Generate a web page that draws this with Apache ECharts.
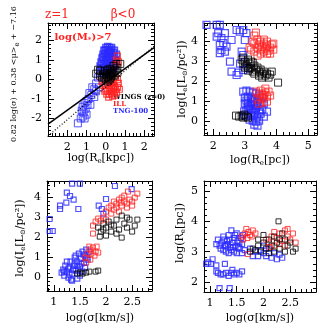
<!DOCTYPE html>
<html>
<head>
<meta charset="utf-8">
<script src="https://cdn.jsdelivr.net/npm/echarts@6/dist/echarts.min.js"></script>
<style>
  html, body { margin: 0; padding: 0; background: #fff; }
  #main { width: 330px; height: 332px; }
</style>
</head>
<body>
<div id="main"></div>
<script>
// ---- panel 1: log(Re[kpc]) vs FP combination
var p1Blue = [[-0.3,0.3],[-0.2,0.5],[-0.3,0.7],[-0.25,0.9],[-0.2,1.1],[-0.15,1.3],[-0.1,1.5],[0,1.65],[0.1,1.7],[0.2,1.65],[0.3,1.55],[0.4,1.4],[0.45,1.2],[0.5,1.0],[0.45,0.8],[0.4,0.6],[0.3,0.4],[0.2,0.3],[0.1,0.35],[0,0.4],[-0.1,0.6],[0,0.8],[0.1,1.0],[0.2,1.2],[0.3,1.3],[0.1,1.4],[0,1.2],[-0.1,1.0],[0.2,0.8],[0.3,1.0],[0.35,0.75],[0.05,0.6],[0.15,0.55],[-0.05,1.3],[0.15,1.5],[0.25,1.4],[-0.2,0.8],[0.4,1.0],[0.2,1.0],[0.05,1.1],[-0.15,0.4],[0.25,0.6],[0.5,0.7],[0.55,1.3],
  [-0.25,0.6],[-0.1,0.8],[0.0,1.0],[0.1,1.2],[0.2,1.45],[0.35,1.15],[0.25,0.85],[0.1,0.75],[-0.05,1.5],[0.05,1.55],[0.3,1.65],[-0.15,1.15],[0.45,1.5],[0.35,0.5]];
var p1BlueTail = [[-0.4,0.1],[-0.5,-0.2],[-0.6,-0.5],[-0.7,-0.4],[-0.75,-0.8],[-0.85,-0.7],[-0.9,-1.0],[-1.0,-1.1],[-0.95,-1.3],[-1.1,-1.2],[-1.05,-1.5],[-1.2,-1.4],[-1.15,-1.7],[-1.25,-1.6],[-1.2,-1.9],[-1.3,-2.0],[-1.1,-2.0],[-1.45,-2.25],[-1.0,-1.8],[-0.8,-1.3],[-0.6,-0.9],[-0.5,-0.6],[-0.35,-0.4]];
var p1Red = [[-0.2,-0.1],[-0.1,-0.3],[0,-0.5],[0.1,-0.6],[0.2,-0.75],[0.3,-0.7],[0.4,-0.6],[0.5,-0.5],[0.6,-0.4],[0.65,-0.2],[0.6,0],[0.5,0.1],[0.4,-0.1],[0.3,-0.3],[0.2,-0.4],[0.1,-0.2],[0.3,-0.5],[0.45,-0.35],[0.55,-0.65],[0.35,-0.85],[0.15,-0.9],[0.05,-0.75],[-0.05,-0.6],[0.25,-0.15],[0.5,0.75],[0.55,1.0],[0.6,1.2],[0.65,0.9],[0.45,-0.8],[0.7,-0.5],[0.0,-0.3],[0.4,-0.45]];
var p1Black = [[-0.5,0.3],[-0.4,0.5],[-0.3,0.2],[-0.2,0.1],[-0.1,0.3],[0,0.2],[0.1,0.1],[0.2,0.3],[0.3,0.2],[0.4,0.4],[0.5,0.5],[0.6,0.6],[0.75,0.8],[0.55,0.8],[0.4,0.7],[0.1,0.5],[0,0.0],[0.2,0.0],[0.3,0.45],[-0.1,0.1],[0.15,0.25],[0.25,0.1],[-0.05,0.45],[0.35,0.3],[0.45,0.2],[0.1,-0.1],[-0.3,0.45],[0.6,0.35],[0.05,0.35],[0.2,0.55]];
var p1FitSolid = [[-3,-2.29],[2.5,1.64]];
var p1FitDotted = [[-3,-2.9],[2.5,1.71]];

// ---- panel 2: log(Re[pc]) vs log(Ie)
var p2Blue = [[1.79,4.84],[2.11,4.84],[2.21,4.84],[2.37,4.42],[2.26,4.17],[2.21,3.83],[2.26,3.58],[2.21,3.42],[2.37,3.5],[2.42,3.75],[2.58,4.08],[2.74,4.58],[2.95,4.58],[3.05,4.42],[2.84,4.5],[3.0,4.08],[2.53,3.0],[2.58,2.5],[2.74,2.33],[2.8,2.45],[2.9,3.5],[2.95,3.33],[2.85,2.9],[3.1,2.67],[2.95,2.58],[2.11,4.25],[2.16,4.42],[2.32,3.92],
  [2.95,1.5],[3.05,1.55],[3.15,1.5],[3.25,1.45],[3.35,1.4],[3.45,1.3],[3.55,1.2],[3.0,1.2],[3.1,1.25],[3.2,1.2],[3.3,1.15],[3.4,1.1],[3.5,0.95],[3.0,0.9],[3.1,0.95],[3.2,0.9],[3.3,0.85],[3.4,0.8],[3.6,0.9],[3.05,0.6],[3.15,0.65],[3.25,0.6],[3.35,0.55],[3.45,0.5],[3.1,0.35],[3.2,0.3],[3.3,0.3],[3.4,0.25],[3.5,0.4],[3.25,0.05],[3.35,0.0],[3.3,-0.15],[3.4,-0.2],[3.15,0.1],[2.98,0.5],[3.55,0.6],[3.7,0.5],[3.6,0.25],[3.0,0.3],[3.45,0.05],
  [3.05,1.05],[3.15,0.8],[3.25,1.0],[3.35,0.7],[3.2,0.45],[3.1,0.75],[3.3,0.45],[3.4,0.95]];
var p2Red = [[3.3,4.3],[3.4,4.1],[3.5,4.0],[3.6,3.9],[3.7,3.8],[3.8,3.7],[3.9,3.6],[3.3,3.9],[3.4,3.7],[3.5,3.6],[3.6,3.5],[3.7,3.4],[3.2,3.6],[3.3,3.5],[3.45,3.85],[3.55,3.75],[3.65,3.65],[3.75,3.55],[3.85,3.85],[3.35,4.45],[3.25,4.0],[3.5,3.4],[3.8,3.4],[3.6,4.1],[3.15,3.7],[3.9,3.9],[3.4,3.3],[3.7,4.0],
  [3.35,1.5],[3.45,1.4],[3.55,1.35],[3.65,1.45],[3.75,1.5],[3.5,1.2],[3.6,1.15],[3.7,1.25],[3.4,1.1],[3.5,1.55],[3.65,1.65],[3.8,1.3],[3.55,0.95],[3.45,0.9],[3.7,1.0],[3.6,1.35]];
var p2Black = [[2.9,3.1],[3.0,3.0],[3.05,2.8],[3.1,3.1],[3.15,2.9],[3.2,2.7],[3.25,2.95],[3.3,2.8],[3.35,2.6],[3.4,2.7],[3.45,2.5],[3.5,2.6],[3.55,2.4],[3.6,2.5],[3.65,2.3],[3.7,2.4],[3.75,2.2],[3.8,2.35],[3.0,2.7],[3.1,2.55],[3.2,3.0],[3.3,2.4],[3.45,2.3],[2.95,2.9],[3.15,2.65],[3.55,2.2],[3.85,2.5],[2.95,3.2],[4.05,1.95],[3.25,2.5],
  [2.72,0.3],[2.82,0.25],[2.9,0.3],[2.95,0.2],[3.05,0.25],[3.1,0.2],[2.98,0.35]];

// ---- panel 3: log(sigma) vs log(Ie)
var p3Blue = [[0.92,2.93],[0.92,2.33],[0.98,2.33],[1.12,3.43],[1.12,3.6],[1.24,3.75],[1.31,4.08],[1.38,3.9],[1.47,3.43],[1.5,4.7],[1.35,4.7],[1.22,4.85],[1.07,4.85],[1.25,4.25],[2.17,4.58],[2.0,3.93],[1.92,3.43],[1.86,3.6],[2.49,4.42],[1.95,3.2],
  [1.15,0.25],[1.18,0.4],[1.2,0.1],[1.22,0.6],[1.25,0.3],[1.28,0.0],[1.3,0.5],[1.32,0.8],[1.35,0.2],[1.35,-0.15],[1.38,0.6],[1.4,1.0],[1.42,0.35],[1.45,0.8],[1.45,-0.05],[1.48,1.2],[1.5,0.55],[1.52,0.95],[1.55,1.3],[1.55,0.3],[1.58,0.75],[1.6,1.1],[1.62,1.4],[1.65,0.9],[1.68,1.3],[1.25,0.8],[1.3,0.15],[1.4,0.7],[1.5,0.1],[1.6,0.5],[1.42,1.1],[1.28,0.45],[1.37,0.4],[1.47,0.4],[1.53,0.7],[1.33,-0.1],[1.2,0.3],[1.63,1.0],[1.57,1.15],[1.45,0.6]];
var p3Red = [[2.1,3.6],[2.15,3.8],[2.2,3.7],[2.25,3.9],[2.3,3.6],[2.35,3.8],[2.4,3.7],[2.45,3.9],[2.2,3.5],[2.3,4.0],[2.4,3.5],[2.5,3.8],[2.55,4.0],[2.15,3.4],[2.25,3.3],[2.05,3.5],[2.35,4.1],[2.6,4.2],[2.0,3.3],[1.95,3.0],[1.85,2.95],[1.8,2.8],[1.75,2.6],[1.9,2.85],[2.0,2.9],[1.75,2.2],[2.1,3.2],[2.5,3.6],[2.28,3.75],[2.42,4.3],
  [1.6,1.0],[1.65,1.2],[1.7,1.4],[1.75,1.5],[1.8,1.3],[1.7,0.9],[1.78,1.1],[1.85,1.25],[1.68,1.55],[1.82,1.55],[1.72,1.2],[1.62,0.75]];
var p3Black = [[1.85,2.5],[1.9,2.3],[1.95,2.7],[2.0,2.5],[2.05,2.8],[2.1,2.3],[2.15,2.6],[2.2,2.9],[2.25,2.4],[2.3,3.1],[2.35,2.7],[2.4,2.5],[2.45,2.9],[2.5,2.3],[2.0,2.1],[2.2,2.2],[2.3,2.0],[1.95,2.4],[2.6,2.9],[2.55,2.6],[2.1,2.65],[2.4,3.0],[1.88,2.05],
  [1.45,0.2],[1.5,0.25],[1.55,0.2],[1.62,0.25],[1.68,0.3],[1.8,0.3],[1.85,0.35]];

// ---- panel 4: log(sigma) vs log(Re[pc])
var p4Blue = [[1.12,3.25],[1.15,3.4],[1.2,3.1],[1.22,3.3],[1.25,3.5],[1.28,3.2],[1.3,3.0],[1.32,3.35],[1.35,3.55],[1.38,3.15],[1.4,3.7],[1.42,3.3],[1.45,3.0],[1.45,3.45],[1.48,3.2],[1.5,3.6],[1.52,3.35],[1.55,3.1],[1.58,3.45],[1.6,3.25],[1.62,3.55],[1.65,3.05],[1.35,2.95],[1.5,2.95],[1.18,3.2],[1.27,3.4],[1.37,3.4],[1.43,3.15],[1.55,3.3],[1.3,3.2],[1.4,3.05],[1.47,3.55],[1.6,2.95],[1.25,3.05],[1.34,3.25],[1.53,3.15],
  [0.93,2.6],[0.97,2.65],[1.02,2.6],[1.05,2.75],[1.12,2.55],[1.15,2.3],[1.2,2.25],[1.25,2.25],[1.3,2.3],[1.35,2.2],[1.4,2.3],[1.45,2.25],[1.5,2.3],[1.55,2.25],[1.6,2.35],[1.28,2.6],[1.18,1.8],[1.37,1.8],[1.42,2.4],[1.12,2.35],
  [1.8,2.85],[1.85,3.0],[1.9,2.85],[1.95,3.05],[2.0,2.95],[2.05,2.85],[2.1,3.1],[2.15,2.8],[2.2,2.95],[2.25,2.75],[2.3,2.9],[2.35,2.8],[1.75,3.1],[2.0,3.2]];
var p4Red = [[1.6,3.5],[1.65,3.6],[1.7,3.45],[1.72,3.65],[1.75,3.55],[1.8,3.7],[1.85,3.6],[1.68,3.75],[1.78,3.5],[1.62,3.4],[2.05,3.4],[2.1,3.3],[2.15,3.5],[2.2,3.2],[2.25,3.45],[2.3,3.6],[2.35,3.35],[2.4,3.7],[2.45,3.5],[2.5,3.4],[2.55,3.6],[2.6,3.3],[2.2,3.65],[2.3,3.25],[2.4,3.2],[1.71,2.92],[2.12,3.15],[2.45,3.75]];
var p4Black = [[1.75,3.0],[1.8,3.1],[1.85,3.05],[1.9,3.2],[1.95,3.0],[2.0,3.3],[2.05,3.1],[2.1,3.4],[2.15,3.2],[2.2,3.5],[2.25,3.3],[2.3,3.1],[2.35,3.6],[2.4,3.4],[2.45,3.2],[2.5,3.3],[2.55,3.0],[2.1,2.95],[2.2,3.0],[2.28,4.0],[2.0,3.55],[1.9,3.4],[2.3,3.4],[2.4,3.0],[2.6,3.1]];

// axis tick labels
var p1XTicks = [-2, -1, 0, 1, 2];
var p1YTicks = [-2, -1, 0, 1, 2];
var p2XTicks = [2, 3, 4, 5];
var ieTicks = [0, 1, 2, 3, 4];
var sigTicks = [1, 1.5, 2, 2.5];
var p4YTicks = [2, 3, 4, 5];

var BLUE = '#2a2aff', RED = '#ff2020', BLACK = '#000';
var FONT = 'DejaVu Serif';

var boxes = [
  {left: 48, top: 23, width: 106, height: 113},
  {left: 204, top: 23, width: 113, height: 112},
  {left: 47, top: 181, width: 105, height: 110},
  {left: 204, top: 181, width: 112, height: 111}
];
var ranges = [
  {x: [-3, 2.5], y: [-2.9, 2.9], xt: p1XTicks, yt: p1YTicks, xm: 0.2, ym: 0.2},
  {x: [1.71, 5.28], y: [-0.67, 4.93], xt: p2XTicks, yt: ieTicks, xm: 0.2, ym: 0.2},
  {x: [0.87, 2.88], y: [-0.67, 4.83], xt: sigTicks, yt: ieTicks, xm: 0.1, ym: 0.2},
  {x: [0.89, 2.98], y: [1.67, 5.33], xt: sigTicks, yt: p4YTicks, xm: 0.1, ym: 0.2}
];

function steps(min, max, step) {
  var out = [];
  var k = Math.ceil(min / step - 1e-6);
  for (; k * step <= max + 1e-6; k++) out.push(+(k * step).toFixed(4));
  return out;
}

// two overlapping grids per panel: one for major ticks + data, one for minor ticks
var grids = [], xAxes = [], yAxes = [];
ranges.forEach(function (r, g) {
  grids.push(boxes[g], boxes[g]);
  [0, 1].forEach(function (d) {
    var rng = d === 0 ? r.x : r.y;
    var major = d === 0 ? r.xt : r.yt;
    var minor = steps(rng[0], rng[1], d === 0 ? r.xm : r.ym);
    var sides = d === 0 ? ['bottom', 'top'] : ['left', 'right'];
    var list = d === 0 ? xAxes : yAxes;
    [0, 1].forEach(function (kind) {
      sides.forEach(function (pos, si) {
        var ax = {
          type: 'value', gridIndex: 2 * g + kind, position: pos, min: rng[0], max: rng[1],
          splitLine: {show: false},
          axisLine: {show: kind === 0, onZero: false, lineStyle: {color: '#000', width: 1}},
          axisTick: {show: true, inside: true, length: kind === 0 ? 6 : 3,
            customValues: kind === 0 ? major : minor, lineStyle: {color: '#000'}},
          axisLabel: {show: false}
        };
        if (kind === 0 && si === 0) {
          ax.axisLabel = {
            show: true, customValues: major, margin: 6,
            fontFamily: FONT, fontSize: 11, color: '#000',
            formatter: function (v) { return g === 0 && d === 0 ? String(Math.abs(v)) : String(v); }
          };
        }
        list.push(ax);
      });
    });
  });
});

function pts(g, data, color, size, z, bw) {
  return {
    type: 'scatter', xAxisIndex: 4 * g, yAxisIndex: 4 * g, data: data,
    symbol: 'rect', symbolSize: size, z: z || 2, silent: true,
    itemStyle: {color: 'rgba(0,0,0,0)', borderColor: color, borderWidth: bw || 1}
  };
}

var series = [
  pts(0, p1BlueTail, BLUE, 7),
  pts(0, p1Blue, BLUE, 6, 2, 1.4),
  pts(0, p1Red, RED, 6, 2, 1.2),
  pts(0, p1Black, BLACK, 7, 3),
  {type: 'line', xAxisIndex: 0, yAxisIndex: 0, data: p1FitSolid, symbol: 'none', z: 4,
    lineStyle: {color: '#000', width: 1.5}},
  {type: 'line', xAxisIndex: 0, yAxisIndex: 0, data: p1FitDotted, symbol: 'none', z: 4,
    lineStyle: {color: '#000', width: 1.2, type: [1, 2]}},
  pts(1, p2Blue, BLUE, 7, 2, 1.2),
  pts(1, p2Red, RED, 7),
  pts(1, p2Black, BLACK, 7, 3),
  pts(2, p3Blue, BLUE, 5, 2, 1.2),
  pts(2, p3Red, RED, 5),
  pts(2, p3Black, BLACK, 5, 3),
  pts(3, p4Blue, BLUE, 5, 2, 1.2),
  pts(3, p4Red, RED, 5),
  pts(3, p4Black, BLACK, 5, 3)
];

var rich = {
  s: {fontFamily: FONT, fontSize: 7, padding: [6, 0, 0, 0]},
  r: {fontFamily: FONT, fontSize: 7, color: RED, fontWeight: 'bold', padding: [6, 0, 0, 0]}
};
function txt(x, y, text, opts) {
  return {
    type: 'text', x: x, y: y, silent: true,
    style: Object.assign({text: text, fontFamily: FONT, fontSize: 11, fill: '#000',
      align: 'center', verticalAlign: 'middle', rich: rich}, opts || {})
  };
}
function vtxt(x, y, text, opts) {
  var t = txt(x, y, text, opts);
  t.rotation = Math.PI / 2;
  return t;
}

var graphic = [
  txt(57, 15, 'z=1', {fill: RED, fontSize: 12}),
  txt(123, 15, 'β<0', {fill: RED, fontSize: 12}),
  txt(83, 37, 'log(M{r|*})>7', {fill: RED, fontSize: 10, fontWeight: 'bold'}),
  txt(113, 97, 'WINGS (z=0)', {fill: BLACK, fontSize: 7, fontWeight: 'bold', align: 'left'}),
  txt(113, 104, 'ILL', {fill: RED, fontSize: 7, fontWeight: 'bold', align: 'left'}),
  txt(113, 111, 'TNG-100', {fill: BLUE, fontSize: 7, fontWeight: 'bold', align: 'left'}),
  txt(101, 158, 'log(R{s|e}[kpc])'),
  vtxt(14, 74, '0.82 log(σ) + 0.38 <μ>{s|e} + −7.16', {fontSize: 8}),
  txt(260, 160, 'log(R{s|e}[pc])'),
  vtxt(182, 79, 'log(I{s|e}[L{s|⊙}/pc²])'),
  txt(100, 318, 'log(σ[km/s])'),
  vtxt(20, 238, 'log(I{s|e}[L{s|⊙}/pc²])'),
  txt(260, 318, 'log(σ[km/s])'),
  vtxt(180, 233, 'log(R{s|e}[pc])')
];

var chart = echarts.init(document.getElementById('main'), null, {renderer: 'canvas'});
chart.setOption({
  animation: false,
  backgroundColor: '#fff',
  grid: grids,
  xAxis: xAxes,
  yAxis: yAxes,
  series: series,
  graphic: graphic
});
</script>
</body>
</html>
